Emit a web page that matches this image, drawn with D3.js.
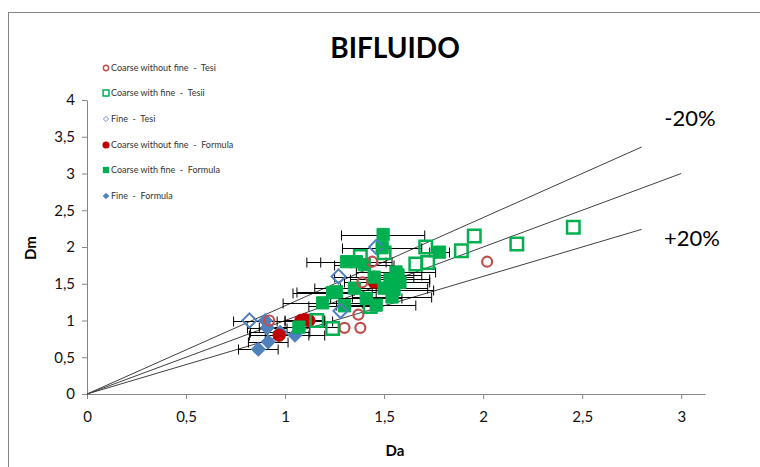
<!DOCTYPE html>
<html>
<head>
<meta charset="utf-8">
<script src="https://d3js.org/d3.v7.min.js"></script>
<style>
    body { margin: 0; background: #fff; overflow: hidden; }
    text { font-family: Lato, "Open Sans", sans-serif; }
</style>
</head>
<body>
<div id="chart"></div>
<script>
// values: [Da, Dm] or [Da, Dm, error on Da]
const coarseNoFineTesi = [[0.92, 1.0], [1.30, 0.90], [1.38, 0.90], [1.37, 1.08], [1.39, 1.52], [1.44, 1.80], [2.02, 1.80]];
const coarseFineTesi = [[1.16, 1.0], [1.24, 0.89], [1.43, 1.19], [1.38, 1.87], [1.50, 1.92], [1.66, 1.77], [1.72, 1.79],
    [1.71, 2.0], [1.89, 1.95], [1.955, 2.15], [2.17, 2.04], [2.455, 2.27]];
const fineTesi = [[0.82, 1.0], [1.28, 1.13], [1.27, 1.60], [1.46, 2.0]];
const coarseNoFineFormula = [[0.97, 0.80, 0.15], [1.08, 1.0, 0.12], [1.10, 1.01, 0.1], [1.12, 1.0, 0.12], [1.45, 1.52, 0.15]];
const coarseFineFormula = [
    [1.495, 2.17, 0.21], [1.49, 1.99, 0.20], [1.31, 1.80, 0.20], [1.36, 1.80, 0.18], [1.78, 1.93, 0.05],
    [1.26, 1.39, 0.20], [1.35, 1.44, 0.20], [1.45, 1.59, 0.20], [1.50, 1.44, 0.22], [1.19, 1.24, 0.20],
    [1.24, 1.38, 0.20], [1.07, 0.91, 0.20], [1.54, 1.32, 0.20], [1.56, 1.66, 0.20], [1.53, 1.56, 0.20],
    [1.41, 1.30, 0.18], [1.30, 1.20, 0.18], [1.46, 1.21, 0.20], [1.58, 1.52, 0.15], [1.40, 1.76, 0.15],
    [1.55, 1.42, 0.20], [1.57, 1.62, 0.12]
];
const fineFormula = [[0.865, 0.61, 0.1], [0.915, 0.71, 0.1], [0.975, 0.84, 0.15], [1.05, 0.80, 0.15], [0.90, 1.0, 0.16], [0.91, 0.90, 0.1]];

// reference lines: Dm = k * Da, drawn up to xEnd
const refSlopes = [1.2, 1.0, 0.8];
const refEnds = [2.8, 3.0, 2.8];
const refLabels = ["-20%", "+20%"];

const xTicks = [0, 0.5, 1, 1.5, 2, 2.5, 3];
const yTicks = [0, 0.5, 1, 1.5, 2, 2.5, 3, 3.5, 4];
const legendLabels = ["Coarse without fine  -  Tesi", "Coarse with fine  -  Tesii", "Fine  -  Tesi",
    "Coarse without fine  -  Formula", "Coarse with fine  -  Formula", "Fine  -  Formula"];

const width = 760, height = 467;
const red = "#c0504d", darkRed = "#c00000", green = "#00b050", blue = "#4f81bd";
const fmt = d => String(d).replace(".", ",");

const svg = d3.select("#chart").append("svg")
    .attr("width", width)
    .attr("height", height);

svg.append("rect")
    .attr("x", 8.5).attr("y", 12.5)
    .attr("width", 800).attr("height", 500)
    .attr("fill", "#fff").attr("stroke", "#868686");

const x = d3.scaleLinear().domain([0, 3.12]).range([87, 705]);
const y = d3.scaleLinear().domain([0, 4]).range([394, 100]);

// axes
const xAxis = svg.append("g")
    .attr("transform", `translate(0,${y(0)})`)
    .call(d3.axisBottom(x).tickValues(xTicks).tickSize(5).tickSizeOuter(0).tickFormat(fmt));
const yAxis = svg.append("g")
    .attr("transform", `translate(${x(0)},0)`)
    .call(d3.axisLeft(y).tickValues(yTicks).tickSize(5).tickSizeOuter(0).tickFormat(fmt));
[xAxis, yAxis].forEach(a => {
    a.select(".domain").attr("stroke", "#868686");
    a.selectAll(".tick line").attr("stroke", "#868686");
    a.selectAll(".tick text").attr("fill", "#111").attr("font-size", 15);
});
xAxis.selectAll(".tick text").attr("dy", "1.3em");
yAxis.selectAll(".tick text").attr("x", -12);

svg.append("text").attr("x", 395).attr("y", 456).attr("text-anchor", "middle")
    .attr("font-weight", "bold").attr("font-size", 15).text("Da");
svg.append("text").attr("transform", "translate(36,248) rotate(-90)").attr("text-anchor", "middle")
    .attr("font-weight", "bold").attr("font-size", 15).text("Dm");

svg.append("text").attr("x", 395).attr("y", 58).attr("text-anchor", "middle")
    .attr("font-weight", "bold").attr("font-size", 28).text("BIFLUIDO");

// reference lines
const line = d3.line().x(d => x(d[0])).y(d => y(d[1]));
refSlopes.forEach((k, i) => {
    svg.append("path")
        .attr("d", line([[0, 0], [refEnds[i], k * refEnds[i]]]))
        .attr("stroke", "#404040").attr("stroke-width", 1).attr("fill", "none");
});
svg.append("text").attr("x", 690).attr("y", 126).attr("text-anchor", "middle").attr("font-size", 22).text(refLabels[0]);
svg.append("text").attr("x", 692).attr("y", 246).attr("text-anchor", "middle").attr("font-size", 22).text(refLabels[1]);

// error bars for the formula series
const errG = svg.append("g").attr("stroke", "#000").attr("stroke-width", 1);
[coarseNoFineFormula, coarseFineFormula, fineFormula].forEach(series => {
    series.forEach(d => {
        const yy = Math.round(y(d[1])) + 0.5;
        errG.append("line").attr("x1", x(d[0] - d[2])).attr("x2", x(d[0] + d[2])).attr("y1", yy).attr("y2", yy);
        [d[0] - d[2], d[0] + d[2]].forEach(e => {
            errG.append("line").attr("x1", x(e)).attr("x2", x(e)).attr("y1", yy - 5).attr("y2", yy + 5);
        });
    });
});

// marker drawing (rot = 45 turns a square into a diamond)
function drawMarkers(g, data, kind, size, hollow, color, sw, rot) {
    const sym = d3.symbol().type(kind).size(size);
    g.selectAll(null).data(data).enter().append("path")
        .attr("d", sym)
        .attr("transform", d => `translate(${x(d[0])},${y(d[1])}) rotate(${rot || 0})`)
        .attr("fill", hollow ? "none" : color)
        .attr("stroke", color)
        .attr("stroke-width", sw);
}

const pts = svg.append("g");
drawMarkers(pts, fineFormula, d3.symbolSquare, 95, false, blue, 1, 45);
drawMarkers(pts, coarseNoFineFormula, d3.symbolCircle, 120, false, darkRed, 1);
drawMarkers(pts, coarseFineFormula, d3.symbolSquare, 150, false, green, 1);
drawMarkers(pts, fineTesi, d3.symbolSquare, 100, true, blue, 2, 45);
drawMarkers(pts, coarseNoFineTesi, d3.symbolCircle, 78, true, red, 2.2);
drawMarkers(pts, coarseFineTesi, d3.symbolSquare, 155, true, green, 2.5);

// legend
const legendY = [68, 93, 119, 145, 170, 196];
const legendMarks = [
    { t: d3.symbolCircle, s: 22, h: true, c: red, w: 1.5, r: 0 },
    { t: d3.symbolSquare, s: 34, h: true, c: green, w: 1.5, r: 0 },
    { t: d3.symbolSquare, s: 14, h: true, c: blue, w: 0.8, r: 45 },
    { t: d3.symbolCircle, s: 40, h: false, c: darkRed, w: 0, r: 0 },
    { t: d3.symbolSquare, s: 40, h: false, c: green, w: 0, r: 0 },
    { t: d3.symbolSquare, s: 22, h: false, c: blue, w: 0, r: 45 }
];
const leg = svg.append("g");
legendLabels.forEach((lab, i) => {
    const m = legendMarks[i];
    leg.append("path")
        .attr("d", d3.symbol().type(m.t).size(m.s))
        .attr("transform", `translate(106,${legendY[i]}) rotate(${m.r})`)
        .attr("fill", m.h ? "none" : m.c)
        .attr("stroke", m.c).attr("stroke-width", m.w);
    leg.append("text").attr("x", 111).attr("y", legendY[i] + 3)
        .attr("font-size", 9).attr("fill", "#333")
        .style("white-space", "pre")
        .text(lab);
});
</script>
</body>
</html>
